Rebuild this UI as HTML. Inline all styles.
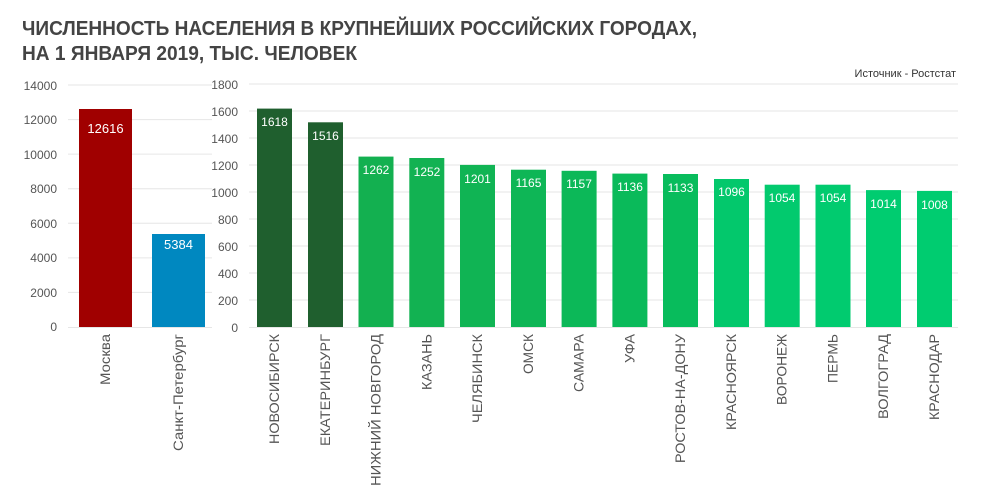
<!DOCTYPE html>
<html><head><meta charset="utf-8"><style>
html,body{margin:0;padding:0;background:#fff;}
svg{display:block;}
text{font-family:"Liberation Sans Narrow","Liberation Sans",sans-serif;}
</style></head><body>
<svg width="983" height="495" xmlns="http://www.w3.org/2000/svg">
<text x="22" y="35" font-size="20" font-weight="bold" fill="#444" textLength="675" lengthAdjust="spacingAndGlyphs" font-family="Liberation Sans">ЧИСЛЕННОСТЬ НАСЕЛЕНИЯ В КРУПНЕЙШИХ РОССИЙСКИХ ГОРОДАХ,</text>
<text x="22" y="60" font-size="20" font-weight="bold" fill="#444" textLength="335" lengthAdjust="spacingAndGlyphs" font-family="Liberation Sans">НА 1 ЯНВАРЯ 2019, ТЫС. ЧЕЛОВЕК</text>
<text x="956" y="77" font-size="11" fill="#333" text-anchor="end">Источник - Ростстат</text>
<g stroke="#e6e6e6" stroke-width="1">
<line x1="68" x2="212" y1="85" y2="85"/><line x1="68" x2="212" y1="119.6" y2="119.6"/><line x1="68" x2="212" y1="154.1" y2="154.1"/><line x1="68" x2="212" y1="188.7" y2="188.7"/><line x1="68" x2="212" y1="223.3" y2="223.3"/><line x1="68" x2="212" y1="257.9" y2="257.9"/><line x1="68" x2="212" y1="292.4" y2="292.4"/><line x1="68" x2="212" y1="327.5" y2="327.5"/>
<line x1="249" x2="958" y1="84" y2="84"/><line x1="249" x2="958" y1="111" y2="111"/><line x1="249" x2="958" y1="138" y2="138"/><line x1="249" x2="958" y1="165" y2="165"/><line x1="249" x2="958" y1="192" y2="192"/><line x1="249" x2="958" y1="219" y2="219"/><line x1="249" x2="958" y1="246" y2="246"/><line x1="249" x2="958" y1="273" y2="273"/><line x1="249" x2="958" y1="300" y2="300"/><line x1="249" x2="958" y1="327.5" y2="327.5"/>
</g>
<g font-size="12" fill="#555" text-anchor="end">
<text x="57" y="90">14000</text><text x="57" y="124">12000</text><text x="57" y="159">10000</text><text x="57" y="193">8000</text><text x="57" y="228">6000</text><text x="57" y="262">4000</text><text x="57" y="297">2000</text><text x="57" y="331">0</text>
<text x="238" y="89">1800</text><text x="238" y="116">1600</text><text x="238" y="143">1400</text><text x="238" y="170">1200</text><text x="238" y="197">1000</text><text x="238" y="224">800</text><text x="238" y="251">600</text><text x="238" y="278">400</text><text x="238" y="305">200</text><text x="238" y="332">0</text>
</g>
<rect x="79" y="109" width="53" height="218" fill="#a00000"/>
<rect x="152" y="234" width="53" height="93" fill="#0088c0"/>
<g font-size="13" fill="#fff" text-anchor="middle">
<text x="105.5" y="133">12616</text><text x="178.5" y="249">5384</text>
</g>
<g>
<rect x="257" y="108.6" width="35" height="218.4" fill="#1f5f2e"/>
<rect x="308" y="122.3" width="35" height="204.7" fill="#1f5f2e"/>
<rect x="358.5" y="156.6" width="35" height="170.4" fill="#13b050"/>
<rect x="409.3" y="158" width="35" height="169" fill="#12b252"/>
<rect x="460" y="164.9" width="35" height="162.1" fill="#10b454"/>
<rect x="511" y="169.7" width="35" height="157.3" fill="#0eb656"/>
<rect x="561.6" y="170.8" width="35" height="156.2" fill="#0cb858"/>
<rect x="612.4" y="173.6" width="35" height="153.4" fill="#0aba5a"/>
<rect x="663" y="174" width="35" height="153" fill="#08bc5c"/>
<rect x="714" y="179" width="35" height="148" fill="#03c86c"/>
<rect x="764.7" y="184.7" width="35" height="142.3" fill="#02ca6e"/>
<rect x="815.5" y="184.7" width="35" height="142.3" fill="#01cb6f"/>
<rect x="866" y="190.1" width="35" height="136.9" fill="#00cc70"/>
<rect x="917" y="190.9" width="35" height="136.1" fill="#00cc70"/>
</g>
<g font-size="12" fill="#fff" text-anchor="middle">
<text x="274.5" y="126">1618</text><text x="325.5" y="140">1516</text><text x="376" y="174">1262</text><text x="427" y="176">1252</text><text x="477.5" y="183">1201</text><text x="528.5" y="187">1165</text><text x="579" y="188">1157</text><text x="630" y="191">1136</text><text x="680.5" y="192">1133</text><text x="731.5" y="196">1096</text><text x="782" y="202">1054</text><text x="833" y="202">1054</text><text x="883.5" y="208">1014</text><text x="934.5" y="209">1008</text>
</g>
<g font-size="14" fill="#555" text-anchor="end" lengthAdjust="spacingAndGlyphs">
<text transform="translate(110,334) rotate(-90)" textLength="51" lengthAdjust="spacingAndGlyphs">Москва</text>
<text transform="translate(183,334) rotate(-90)" textLength="117" lengthAdjust="spacingAndGlyphs">Санкт-Петербург</text>
<text transform="translate(279,334) rotate(-90)" textLength="110" lengthAdjust="spacingAndGlyphs">НОВОСИБИРСК</text>
<text transform="translate(330,334) rotate(-90)" textLength="112" lengthAdjust="spacingAndGlyphs">ЕКАТЕРИНБУРГ</text>
<text transform="translate(380.5,334) rotate(-90)" textLength="152" lengthAdjust="spacingAndGlyphs">НИЖНИЙ НОВГОРОД</text>
<text transform="translate(431.5,334) rotate(-90)" textLength="56" lengthAdjust="spacingAndGlyphs">КАЗАНЬ</text>
<text transform="translate(482,334) rotate(-90)" textLength="89" lengthAdjust="spacingAndGlyphs">ЧЕЛЯБИНСК</text>
<text transform="translate(533,334) rotate(-90)" textLength="40" lengthAdjust="spacingAndGlyphs">ОМСК</text>
<text transform="translate(583.5,334) rotate(-90)" textLength="58" lengthAdjust="spacingAndGlyphs">САМАРА</text>
<text transform="translate(634.5,334) rotate(-90)" textLength="29" lengthAdjust="spacingAndGlyphs">УФА</text>
<text transform="translate(685,334) rotate(-90)" textLength="129" lengthAdjust="spacingAndGlyphs">РОСТОВ-НА-ДОНУ</text>
<text transform="translate(736,334) rotate(-90)" textLength="96" lengthAdjust="spacingAndGlyphs">КРАСНОЯРСК</text>
<text transform="translate(786.5,334) rotate(-90)" textLength="71" lengthAdjust="spacingAndGlyphs">ВОРОНЕЖ</text>
<text transform="translate(837.5,334) rotate(-90)" textLength="49" lengthAdjust="spacingAndGlyphs">ПЕРМЬ</text>
<text transform="translate(888,334) rotate(-90)" textLength="85" lengthAdjust="spacingAndGlyphs">ВОЛГОГРАД</text>
<text transform="translate(939,334) rotate(-90)" textLength="86" lengthAdjust="spacingAndGlyphs">КРАСНОДАР</text>
</g>
</svg>
</body></html>
